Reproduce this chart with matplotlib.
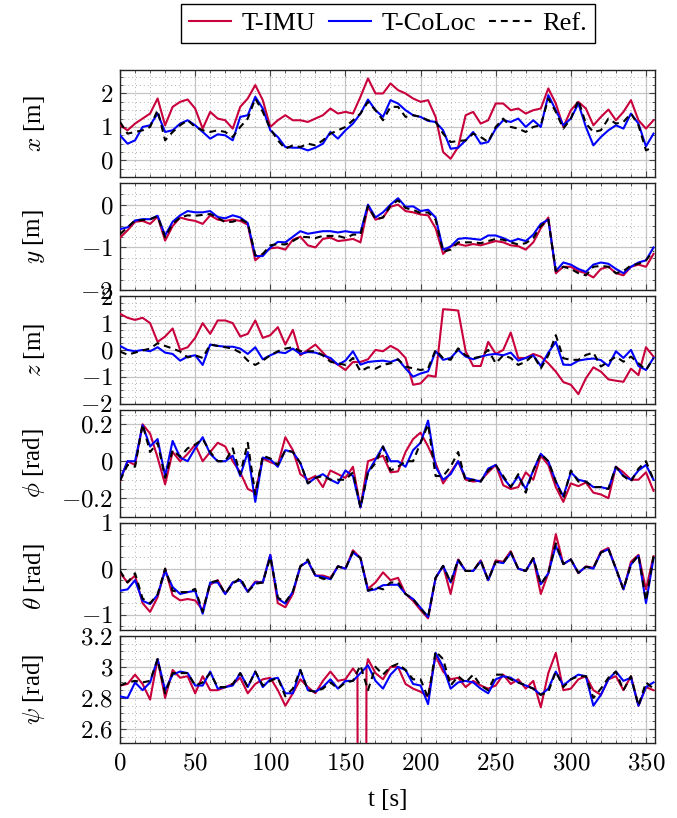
import numpy as np
import matplotlib
matplotlib.use("Agg")
import matplotlib.pyplot as plt
from matplotlib.ticker import FixedLocator, AutoMinorLocator, MultipleLocator, FuncFormatter
from matplotlib.lines import Line2D

plt.rcParams['font.family'] = ['Liberation Serif', 'DejaVu Serif']
plt.rcParams['mathtext.fontset'] = 'cm'

# sample times [s]
T = np.arange(0, 356, 5)

# ---- x [m]
imu_x = [1.05, 0.9, 1.1, 1.25, 1.4, 1.85, 1.05, 1.6, 1.75, 1.82, 1.55, 0.95,
         1.45, 1.25, 1.2, 0.95, 1.6, 1.85, 2.25, 1.8, 1.0, 1.2, 1.35, 1.2,
         1.2, 1.15, 1.25, 1.35, 1.55, 1.4, 1.45, 1.4, 1.9, 2.45, 2.0, 2.0,
         2.3, 2.1, 2.0, 1.85, 1.75, 1.8, 1.3, 0.25, 0.05, 0.4, 1.35, 1.45,
         1.1, 1.2, 1.7, 1.7, 1.5, 1.55, 1.4, 1.5, 1.55, 2.15, 1.7, 1.0,
         1.5, 1.75, 1.55, 1.05, 1.3, 1.52, 1.2, 1.45, 1.8, 1.2, 0.95, 1.2]
co_x = [0.75, 0.5, 0.6, 1.0, 1.05, 1.4, 0.85, 0.9, 1.1, 1.2, 1.05, 0.85,
        0.65, 0.78, 0.75, 0.6, 1.3, 1.35, 1.9, 1.55, 0.9, 0.7, 0.4, 0.38,
        0.38, 0.3, 0.38, 0.5, 0.85, 0.65, 0.9, 1.1, 1.4, 1.82, 1.5, 1.3,
        1.8, 1.7, 1.5, 1.35, 1.3, 1.18, 1.15, 0.9, 0.35, 0.38, 0.6, 0.85,
        0.5, 0.55, 0.95, 1.2, 1.15, 1.25, 1.0, 1.2, 1.0, 1.95, 1.5, 1.05,
        1.25, 1.7, 1.0, 0.45, 0.7, 0.9, 1.05, 0.95, 1.4, 1.1, 0.42, 0.8]
ref_x = [1.15, 0.8, 0.85, 0.9, 1.0, 1.5, 0.6, 0.85, 1.05, 1.2, 1.0, 0.9,
         0.85, 0.9, 0.85, 0.7, 1.0, 1.25, 1.85, 1.45, 0.95, 0.6, 0.35, 0.45,
         0.4, 0.5, 0.45, 0.6, 0.8, 0.9, 1.0, 1.2, 1.4, 1.75, 1.5, 1.2,
         1.6, 1.6, 1.3, 1.35, 1.3, 1.2, 1.15, 0.8, 0.55, 0.58, 0.6, 0.8,
         0.7, 0.55, 1.0, 1.25, 1.0, 0.95, 0.85, 1.0, 1.05, 1.85, 1.45, 0.95,
         1.25, 1.8, 1.1, 0.85, 0.9, 1.25, 1.1, 1.15, 1.4, 1.05, 0.3, 0.4]

# ---- y [m]
imu_y = [-0.77, -0.6, -0.4, -0.38, -0.45, -0.28, -0.84, -0.5, -0.3, -0.35, -0.38, -0.45,
         -0.25, -0.35, -0.38, -0.35, -0.38, -0.47, -1.3, -1.15, -1.02, -1.0, -1.05, -0.82,
         -0.75, -0.95, -1.0, -0.8, -0.77, -0.85, -0.83, -0.8, -0.88, -0.05, -0.35, -0.3,
         -0.05, 0.0, -0.15, -0.18, -0.23, -0.25, -0.55, -1.15, -0.97, -0.92, -0.96, -0.92,
         -0.95, -0.9, -0.85, -0.88, -0.95, -0.97, -1.05, -0.88, -0.55, -0.3, -1.6, -1.45,
         -1.45, -1.55, -1.6, -1.7, -1.5, -1.45, -1.6, -1.65, -1.45, -1.4, -1.45, -1.15]
co_y = [-0.57, -0.53, -0.37, -0.34, -0.34, -0.26, -0.72, -0.4, -0.25, -0.15, -0.18, -0.18,
        -0.15, -0.29, -0.32, -0.25, -0.3, -0.43, -1.2, -1.2, -1.0, -0.87, -0.88, -0.75,
        -0.62, -0.68, -0.65, -0.62, -0.62, -0.65, -0.62, -0.65, -0.65, 0.0, -0.3, -0.18,
        0.0, 0.15, -0.05, -0.04, -0.15, -0.12, -0.3, -1.05, -0.98, -0.8, -0.78, -0.8,
        -0.82, -0.72, -0.72, -0.78, -0.86, -0.8, -0.85, -0.7, -0.45, -0.35, -1.55, -1.35,
        -1.4, -1.5, -1.57, -1.4, -1.35, -1.38, -1.5, -1.6, -1.45, -1.35, -1.3, -1.0]
ref_y = [-0.69, -0.53, -0.37, -0.36, -0.34, -0.27, -0.76, -0.45, -0.3, -0.25, -0.26, -0.24,
         -0.22, -0.31, -0.41, -0.4, -0.34, -0.43, -1.18, -1.15, -0.95, -0.92, -0.93, -0.85,
         -0.75, -0.76, -0.78, -0.73, -0.73, -0.73, -0.78, -0.7, -0.7, -0.03, -0.34, -0.3,
         -0.02, 0.1, -0.08, -0.12, -0.2, -0.18, -0.35, -1.1, -1.05, -0.88, -0.88, -0.88,
         -0.9, -0.85, -0.8, -0.82, -0.88, -0.93, -0.9, -0.78, -0.5, -0.35, -1.55, -1.45,
         -1.5, -1.6, -1.65, -1.45, -1.43, -1.45, -1.6, -1.55, -1.42, -1.38, -1.3, -1.08]

# ---- z [m]
imu_z = [1.35, 1.2, 1.12, 1.2, 1.0, 0.3, 0.5, 0.8, 0.0, 0.1, 0.45, 1.0,
         0.6, 1.1, 1.1, 1.0, 0.5, 0.6, 1.1, 0.45, 0.55, 0.85, 0.2, 0.75,
         -0.2, 0.0, 0.2, -0.1, -0.4, -0.55, -0.75, -0.45, -0.45, -0.35, 0.0, -0.05,
         0.15, 0.0, -0.3, -1.3, -1.25, -0.95, -1.0, 1.52, 1.5, 1.47, -0.05, -0.6,
         -0.6, 0.3, -0.15, 0.0, 0.65, -0.3, -0.3, -0.15, -0.25, -0.5, -0.81, -1.2,
         -1.3, -1.65, -1.06, -0.65, -0.81, -1.1, -1.15, -1.19, -0.7, -0.94, 0.1, -0.25]
co_z = [0.15, 0.0, -0.05, 0.0, -0.05, 0.1, -0.1, -0.15, -0.4, -0.25, -0.2, -0.56,
        0.2, 0.15, 0.12, 0.12, 0.05, -0.15, 0.1, -0.35, -0.2, -0.08, -0.12, 0.05,
        -0.15, -0.08, -0.1, -0.2, -0.3, -0.55, -0.4, -0.05, -0.55, -0.45, -0.42, -0.4,
        -0.45, -0.35, -0.69, -1.0, -0.88, -0.8, -0.05, -0.37, -0.3, 0.0, -0.25, -0.35,
        -0.25, -0.18, -0.15, -0.2, -0.1, -0.4, -0.3, -0.2, -0.6, -0.1, 0.3, -0.55,
        -0.56, -0.4, -0.35, -0.32, -0.38, -0.6, -0.05, -0.3, 0.0, -0.6, -0.75, -0.3]
ref_z = [-0.06, -0.18, -0.1, -0.02, 0.05, 0.25, 0.15, 0.05, -0.06, -0.28, -0.2, -0.3,
         0.2, 0.15, 0.1, 0.05, -0.1, -0.4, -0.56, -0.4, -0.2, -0.05, 0.05, 0.1,
         -0.05, -0.05, -0.05, -0.2, -0.44, -0.5, -0.56, -0.3, -0.8, -0.65, -0.7, -0.56,
         -0.5, -0.35, -0.62, -0.69, -0.75, -0.69, 0.0, -0.31, -0.37, 0.06, -0.2, -0.31,
         -0.25, 0.0, -0.5, -0.2, -0.3, -0.56, -0.44, -0.19, -0.69, -0.2, 0.55, -0.31,
         -0.37, -0.37, -0.19, -0.1, -0.62, -0.44, -0.25, -0.44, -0.25, -0.5, -0.75, -0.31]

# ---- phi [rad]
imu_phi = [-0.105, 0.0, -0.02, 0.2, 0.15, 0.02, -0.125, 0.05, 0.0, 0.04, 0.09, 0.0,
           0.05, 0.1, 0.08, 0.0, -0.06, -0.15, -0.17, 0.015, -0.005, -0.02, 0.13, 0.06,
           -0.07, -0.1, -0.08, -0.14, -0.05, -0.07, -0.09, -0.03, -0.25, 0.0, 0.015, 0.03,
           -0.06, -0.055, 0.05, 0.12, 0.155, 0.08, -0.01, -0.12, -0.06, 0.0, -0.1, -0.11,
           -0.105, -0.06, -0.02, -0.13, -0.15, -0.14, -0.06, -0.1, 0.03, -0.02, -0.14, -0.22,
           -0.12, -0.135, -0.115, -0.17, -0.18, -0.2, -0.03, -0.06, -0.1, -0.1, -0.06, -0.16]
co_phi = [-0.1, 0.0, 0.0, 0.195, 0.08, 0.12, -0.08, 0.11, 0.02, 0.0, 0.07, 0.13,
          0.04, 0.0, 0.0, 0.03, -0.08, 0.05, -0.22, 0.02, 0.01, -0.03, 0.06, 0.05,
          -0.01, -0.12, -0.09, -0.07, -0.1, -0.12, -0.05, -0.08, -0.25, -0.06, 0.01, 0.08,
          0.0, 0.0, -0.03, 0.06, 0.1, 0.22, -0.03, -0.1, -0.07, 0.0, -0.09, -0.1,
          -0.11, -0.04, -0.02, -0.09, -0.14, -0.08, -0.15, -0.05, 0.04, 0.0, -0.11, -0.19,
          -0.06, -0.1, -0.11, -0.14, -0.14, -0.15, -0.03, -0.08, -0.1, -0.05, -0.02, -0.1]
ref_phi = [-0.105, -0.02, -0.03, 0.2, 0.05, 0.1, -0.09, 0.06, 0.024, 0.07, 0.09, 0.12,
           0.05, 0.0, 0.0, 0.07, -0.07, 0.1, -0.18, 0.03, 0.015, -0.02, 0.06, 0.05,
           -0.01, -0.12, -0.09, -0.08, -0.1, -0.1, -0.1, -0.06, -0.25, -0.06, -0.01, 0.08,
           -0.05, -0.03, 0.0, 0.0, 0.1, 0.2, -0.08, -0.08, -0.03, 0.05, -0.11, -0.1,
           -0.11, -0.05, -0.02, -0.08, -0.14, -0.07, -0.17, -0.05, 0.04, 0.0, -0.11, -0.2,
           -0.05, -0.11, -0.11, -0.14, -0.14, -0.15, -0.03, -0.08, -0.11, -0.04, 0.0, -0.1]

# ---- theta [rad]
imu_theta = [-0.09, -0.3, -0.15, -0.75, -0.94, -0.62, 0.0, -0.58, -0.69, -0.66, -0.69, -0.9,
             -0.35, -0.25, -0.55, -0.3, -0.25, -0.5, -0.28, -0.3, 0.3, -0.75, -0.84, -0.55,
             0.05, 0.16, -0.15, -0.15, -0.2, 0.05, 0.0, 0.4, 0.23, -0.44, -0.3, -0.08,
             -0.25, -0.2, -0.55, -0.7, -0.9, -1.08, -0.2, 0.06, -0.55, 0.2, -0.05, -0.05,
             0.18, -0.25, 0.18, 0.15, 0.38, 0.0, -0.05, 0.23, -0.55, -0.1, 0.75, 0.1,
             0.2, -0.1, 0.05, 0.02, 0.37, 0.45, 0.0, -0.45, 0.15, 0.3, -0.45, 0.27]
co_theta = [-0.48, -0.45, -0.25, -0.7, -0.77, -0.57, -0.05, -0.4, -0.55, -0.51, -0.48, -0.98,
            -0.3, -0.3, -0.55, -0.3, -0.25, -0.5, -0.3, -0.3, 0.3, -0.65, -0.76, -0.5,
            0.05, 0.16, -0.15, -0.18, -0.23, 0.05, 0.0, 0.35, 0.23, -0.48, -0.45, -0.36,
            -0.35, -0.35, -0.55, -0.66, -0.85, -1.05, -0.2, 0.06, -0.3, 0.18, -0.05, -0.05,
            0.16, -0.25, 0.15, 0.12, 0.34, 0.0, -0.05, 0.22, -0.34, -0.1, 0.5, 0.1,
            0.2, -0.09, 0.04, 0.0, 0.35, 0.42, 0.0, -0.45, 0.09, 0.28, -0.75, 0.22]
ref_theta = [-0.05, -0.3, -0.1, -0.65, -0.75, -0.56, 0.0, -0.48, -0.51, -0.51, -0.44, -0.94,
             -0.3, -0.26, -0.55, -0.33, -0.2, -0.5, -0.33, -0.3, 0.25, -0.63, -0.73, -0.5,
             0.05, 0.2, -0.15, -0.22, -0.23, 0.05, 0.0, 0.37, 0.23, -0.48, -0.4, -0.45,
             -0.3, -0.3, -0.55, -0.66, -0.87, -1.05, -0.2, 0.06, -0.3, 0.2, -0.05, -0.05,
             0.18, -0.25, 0.15, 0.13, 0.36, 0.0, -0.05, 0.23, -0.34, -0.1, 0.55, 0.1,
             0.2, -0.09, 0.04, 0.02, 0.35, 0.43, 0.0, -0.45, 0.09, 0.3, -0.7, 0.27]

# ---- psi [rad]
imu_psi = [2.88, 2.89, 2.95, 2.89, 2.79, 3.05, 2.80, 2.98, 2.93, 2.94, 2.83, 2.94,
           2.85, 2.85, 2.87, 2.89, 2.93, 2.83, 2.89, 2.92, 2.93, 2.85, 2.75, 2.83,
           2.92, 2.87, 2.83, 2.91, 2.97, 2.91, 2.92, 2.99, -3.1, 3.05, 2.96, 2.92,
           3.0, 3.0, 2.89, 2.86, 2.84, 2.81, 3.07, 2.97, 2.92, 2.93, 2.87, 2.91,
           2.88, 2.86, 2.88, 2.95, 2.89, 2.92, 2.86, 2.91, 2.74, 2.96, 3.09, 2.85,
           2.86, 2.92, 2.94, 2.85, 2.82, 2.92, 2.94, 2.85, 2.94, 2.75, 2.87, 2.85]
# extra T-IMU samples around the angle wrap near t = 160 s
imu_psi_wrap_t = [158, 159, 163, 164]
imu_psi_wrap_v = [2.95, -3.1, -3.1, 3.0]
co_psi = [2.81, 2.80, 2.9, 2.85, 2.9, 3.05, 2.85, 2.95, 2.97, 2.96, 2.88, 2.88,
          2.97, 2.86, 2.87, 2.88, 2.96, 2.87, 2.97, 2.87, 2.92, 2.93, 2.83, 2.83,
          2.98, 2.85, 2.84, 2.87, 2.92, 2.86, 2.91, 2.91, 2.96, 3.01, 2.91, 2.86,
          2.95, 3.0, 2.98, 2.89, 2.88, 2.76, 3.09, 3.0, 2.86, 2.9, 2.91, 2.9,
          2.86, 2.83, 2.92, 2.94, 2.93, 2.9, 2.88, 2.86, 2.82, 2.86, 2.97, 2.88,
          2.92, 2.95, 2.94, 2.75, 2.82, 2.92, 2.97, 2.91, 2.93, 2.75, 2.87, 2.9]
ref_psi = [2.88, 2.9, 2.91, 2.9, 2.91, 3.05, 2.83, 2.96, 2.96, 2.96, 2.88, 2.9,
           2.96, 2.87, 2.87, 2.89, 2.96, 2.87, 2.97, 2.88, 2.91, 2.93, 2.81, 2.86,
           2.98, 2.85, 2.84, 2.86, 2.9, 2.86, 2.9, 2.91, 3.01, 2.85, 3.0, 2.95,
           3.0, 3.02, 2.98, 2.92, 2.92, 2.8, 3.1, 3.05, 2.88, 2.94, 2.9, 2.95,
           2.88, 2.85, 2.95, 2.95, 2.92, 2.9, 2.88, 2.86, 2.82, 2.84, 2.97, 2.87,
           2.92, 2.94, 2.94, 2.8, 2.86, 2.93, 2.97, 2.85, 2.94, 2.75, 2.9, 2.86]

labels = [r'$x$ [m]', r'$y$ [m]', r'$z$ [m]', r'$\phi$ [rad]', r'$\theta$ [rad]', r'$\psi$ [rad]']
ylims = [(-0.5, 2.7), (-2.0, 0.5), (-2.0, 2.0), (-0.3, 0.28), (-1.33, 1.0), (2.51, 3.2)]
yticks = [[0, 1, 2], [-2, -1, 0], [-2, -1, 0, 1, 2], [-0.2, 0, 0.2], [-1, 0, 1], [2.6, 2.8, 3.0, 3.2]]
xticks = [0, 50, 100, 150, 200, 250, 300, 350]
series_names = ['T-IMU', 'T-CoLoc', 'Ref.']

C_IMU = '#C8003C'
C_CO = '#0000FF'
C_REF = 'black'
FS = 18
LW = 1.5

# merge the wrap samples into the T-IMU yaw series
t_imu_psi = np.concatenate([T, imu_psi_wrap_t])
v_imu_psi = np.concatenate([imu_psi, imu_psi_wrap_v])
order = np.argsort(t_imu_psi, kind='stable')
t_imu_psi, v_imu_psi = t_imu_psi[order], v_imu_psi[order]

data = [
    ((T, imu_x), co_x, ref_x),
    ((T, imu_y), co_y, ref_y),
    ((T, imu_z), co_z, ref_z),
    ((T, imu_phi), co_phi, ref_phi),
    ((T, imu_theta), co_theta, ref_theta),
    ((t_imu_psi, v_imu_psi), co_psi, ref_psi),
]

fig = plt.figure(figsize=(6.77, 8.18), dpi=100)
axes = fig.subplots(6, 1, sharex=True, gridspec_kw=dict(hspace=0.056))
fig.subplots_adjust(left=0.1773, right=0.9675, top=0.9144, bottom=0.0917)

fmt = FuncFormatter(lambda v, p: r'$%g$' % round(v, 6))

for ax, (imu, co, ref), lab, yl, yt in zip(axes, data, labels, ylims, yticks):
    ax.plot(imu[0], imu[1], color=C_IMU, lw=LW, zorder=3)
    ax.plot(T, co, color=C_CO, lw=LW, zorder=4)
    ax.plot(T, ref, color=C_REF, lw=LW, ls=(0, (3.3, 2.4)), zorder=5)
    ax.set_xlim(0, 356)
    ax.set_ylim(*yl)
    ax.yaxis.set_major_locator(FixedLocator(yt))
    ax.yaxis.set_minor_locator(AutoMinorLocator(4))
    ax.xaxis.set_major_locator(FixedLocator(xticks))
    ax.xaxis.set_minor_locator(MultipleLocator(10))
    ax.yaxis.set_major_formatter(fmt)
    ax.xaxis.set_major_formatter(fmt)
    ax.grid(which='major', color='#c4c4c4', lw=0.9, ls='-')
    ax.grid(which='minor', color='#b0b0b0', lw=0.7, ls=(0, (1, 3)))
    ax.set_axisbelow(True)
    ax.tick_params(which='both', direction='in', top=True, right=True, color='#444444',
                   labelsize=FS)
    ax.tick_params(which='major', length=4.5, width=0.8, pad=5)
    ax.tick_params(which='minor', length=2.5, width=0.6)
    ax.tick_params(axis='x', which='major', pad=7)
    for s in ax.spines.values():
        s.set_linewidth(1.0)
        s.set_color('#222222')
    ax.set_ylabel(lab, fontsize=FS)
    ax.yaxis.set_label_coords(-0.137, 0.5)

axes[-1].set_xlabel('t [s]', fontsize=FS, labelpad=10)

handles = [Line2D([], [], color=C_IMU, lw=LW),
           Line2D([], [], color=C_CO, lw=LW),
           Line2D([], [], color=C_REF, lw=LW, ls=(0, (3.3, 2.4)))]
fig.legend(handles, series_names, loc='upper center', bbox_to_anchor=(0.573, 0.995),
           ncol=3, fontsize=FS + 1, frameon=True, fancybox=False, edgecolor='black',
           framealpha=1, handlelength=1.6, handletextpad=0.4, columnspacing=0.5,
           borderpad=0.3, borderaxespad=0.0)

fig.savefig('out.png', dpi=100)
